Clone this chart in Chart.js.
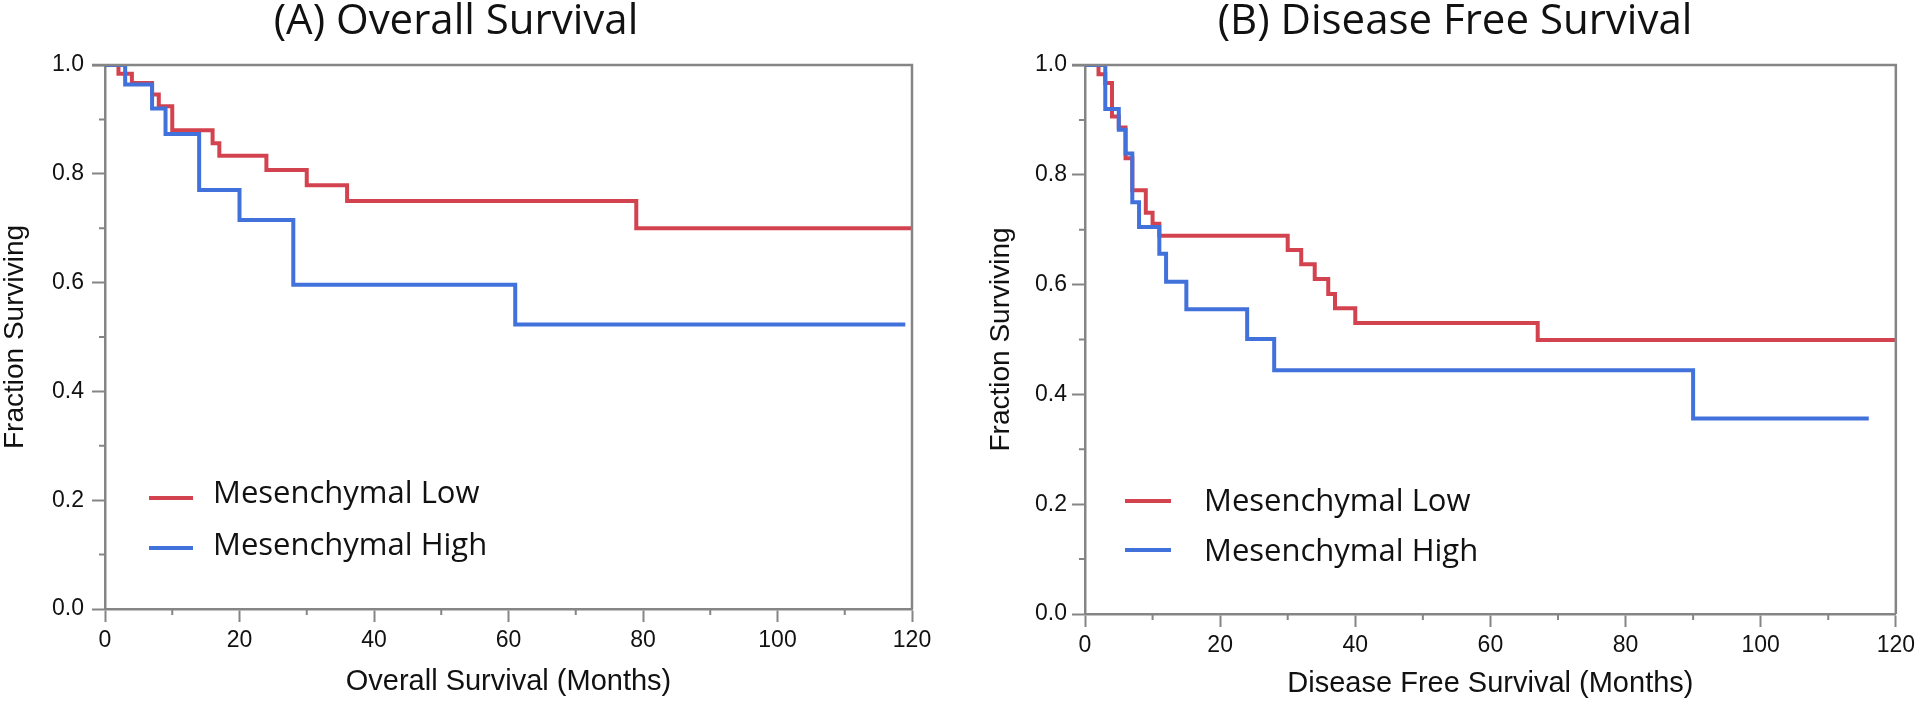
<!DOCTYPE html>
<html>
<head>
<meta charset="utf-8">
<script src="https://cdn.jsdelivr.net/npm/chart.js@4.4.1/dist/chart.umd.min.js"></script>
<style>
    html, body { margin: 0; padding: 0; background: #fff; }
    #wrap { position: relative; width: 1920px; height: 704px; }
    .panel { position: absolute; top: 0; width: 960px; height: 704px; }
</style>
</head>
<body>
<div id="wrap">
    <div class="panel" style="left:0"><canvas id="chartA"></canvas></div>
    <div class="panel" style="left:960px"><canvas id="chartB"></canvas></div>
</div>
<script>
// series names (legend)
const seriesNames = ['Mesenchymal Low', 'Mesenchymal High'];

// (A) Overall survival - months where the curve steps down, and the fraction after the step
const osLowMonths  = [0, 2, 4, 7, 8, 10, 16, 17, 24, 30, 36, 79, 120];
const osLowSurv    = [1, 0.984, 0.967, 0.946, 0.924, 0.880, 0.856, 0.833, 0.807, 0.779, 0.750, 0.700, 0.700];
const osHighMonths = [0, 3, 7, 9, 14, 20, 28, 61, 119];
const osHighSurv   = [1, 0.964, 0.920, 0.873, 0.770, 0.715, 0.596, 0.523, 0.523];

// (B) Disease free survival
const dfsLowMonths  = [0, 2, 3, 4, 5, 6, 7, 9, 10, 11, 30, 32, 34, 36, 37, 40, 67, 120];
const dfsLowSurv    = [1, 0.983, 0.967, 0.906, 0.886, 0.830, 0.772, 0.731, 0.711, 0.689, 0.663, 0.637, 0.610, 0.583, 0.557, 0.530, 0.499, 0.499];
const dfsHighMonths = [0, 3, 5, 6, 7, 8, 11, 12, 15, 24, 28, 90, 116];
const dfsHighSurv   = [1, 0.920, 0.882, 0.839, 0.750, 0.705, 0.656, 0.605, 0.555, 0.501, 0.444, 0.356, 0.356];

// axis ticks
const monthTicks = [0, 20, 40, 60, 80, 100, 120];
const fractionTicks = [0, 0.2, 0.4, 0.6, 0.8, 1.0];

const RED = '#d3434f';
const BLUE = '#4171da';
const AXIS = '#858585';

Chart.defaults.font.family = '"Liberation Sans", Arial, sans-serif';
Chart.defaults.color = '#111';

function toPoints(xs, ys) {
    return xs.map((x, i) => ({x: x, y: ys[i]}));
}

// frame, minor ticks, panel title and in-plot legend
const kmDecor = {
    id: 'kmDecor',
    afterDraw(chart, args, opts) {
        const ctx = chart.ctx;
        const a = chart.chartArea;
        const xs = chart.scales.x;
        const ys = chart.scales.y;
        ctx.save();

        ctx.strokeStyle = AXIS;
        ctx.lineWidth = 2.5;
        ctx.beginPath();
        ctx.moveTo(a.left - 13, a.top);
        ctx.lineTo(a.right, a.top);
        ctx.lineTo(a.right, a.bottom);
        ctx.stroke();

        ctx.lineWidth = 2;
        ctx.beginPath();
        for (let v = 10; v < 120; v += 20) {
            const px = xs.getPixelForValue(v);
            ctx.moveTo(px, a.bottom);
            ctx.lineTo(px, a.bottom + 6);
        }
        for (let v = 0.1; v < 1; v += 0.2) {
            const py = ys.getPixelForValue(v);
            ctx.moveTo(a.left - 6, py);
            ctx.lineTo(a.left, py);
        }
        ctx.stroke();

        ctx.fillStyle = '#111';
        ctx.textAlign = 'center';
        ctx.textBaseline = 'alphabetic';
        ctx.font = '42px "Open Sans", Lato, sans-serif';
        ctx.fillText(opts.title, opts.titleX, opts.titleY);

        const lg = opts.legend;
        ctx.font = '31px "Open Sans", Lato, sans-serif';
        ctx.textAlign = 'left';
        chart.data.datasets.forEach((ds, i) => {
            const row = lg.rows[i];
            ctx.strokeStyle = ds.borderColor;
            ctx.lineWidth = 4;
            ctx.beginPath();
            ctx.moveTo(a.left + lg.lineStart, a.bottom - row.line);
            ctx.lineTo(a.left + lg.lineEnd, a.bottom - row.line);
            ctx.stroke();
            ctx.fillText(ds.label, a.left + lg.textStart, a.bottom - row.base);
        });
        ctx.restore();
    }
};

function makeChart(id, lowPts, highPts, o) {
    const ctx = document.getElementById(id).getContext('2d');
    return new Chart(ctx, {
        type: 'line',
        data: {
            datasets: [{
                label: seriesNames[0],
                data: lowPts,
                borderColor: RED,
                borderWidth: 4,
                stepped: 'before',
                pointRadius: 0,
                fill: false,
                order: 1
            }, {
                label: seriesNames[1],
                data: highPts,
                borderColor: BLUE,
                borderWidth: 4,
                stepped: 'before',
                pointRadius: 0,
                fill: false,
                order: 0
            }]
        },
        options: {
            responsive: true,
            maintainAspectRatio: false,
            animation: false,
            layout: { padding: { top: 65, right: o.padRight, left: 0, bottom: 0 } },
            plugins: {
                legend: { display: false },
                tooltip: { enabled: false },
                kmDecor: o.decor
            },
            scales: {
                x: {
                    type: 'linear',
                    min: 0,
                    max: 120,
                    afterBuildTicks: (s) => { s.ticks = monthTicks.map(v => ({value: v})); },
                    afterFit: (s) => { s.height = o.xHeight; },
                    border: { color: AXIS, width: 2.5 },
                    grid: { drawOnChartArea: false, tickLength: 13, tickColor: AXIS, tickWidth: 2 },
                    ticks: { font: { size: 23 }, padding: 5, maxRotation: 0, color: '#111' },
                    title: {
                        display: true,
                        text: o.xTitle,
                        font: { size: 29, lineHeight: 1 },
                        padding: { top: 0, bottom: o.xTitleBottom },
                        color: '#111'
                    }
                },
                y: {
                    min: 0,
                    max: 1,
                    afterBuildTicks: (s) => { s.ticks = fractionTicks.map(v => ({value: v})); },
                    afterFit: (s) => { s.width = o.yWidth; },
                    border: { color: AXIS, width: 2.5 },
                    grid: { drawOnChartArea: false, tickLength: 13, tickColor: AXIS, tickWidth: 2 },
                    ticks: {
                        font: { size: 23 },
                        padding: o.yTickPad,
                        color: '#111',
                        callback: (v) => Number(v).toFixed(1)
                    },
                    title: {
                        display: true,
                        text: 'Fraction Surviving',
                        font: { size: 28, lineHeight: 1 },
                        padding: { top: o.yTitleTop, bottom: 0 },
                        color: '#111'
                    }
                }
            }
        },
        plugins: [kmDecor]
    });
}

makeChart('chartA', toPoints(osLowMonths, osLowSurv), toPoints(osHighMonths, osHighSurv), {
    padRight: 48,
    xHeight: 95,
    yWidth: 105,
    yTickPad: 8,
    yTitleTop: 1,
    xTitle: 'Overall Survival (Months)',
    xTitleBottom: 8,
    decor: {
        title: '(A) Overall Survival',
        titleX: 456,
        titleY: 34,
        legend: {
            lineStart: 44, lineEnd: 88, textStart: 108,
            rows: [{line: 111, base: 106}, {line: 61, base: 54}]
        }
    }
});

makeChart('chartB', toPoints(dfsLowMonths, dfsLowSurv), toPoints(dfsHighMonths, dfsHighSurv), {
    padRight: 20,
    xHeight: 90,
    yWidth: 125,
    yTickPad: 5,
    yTitleTop: 27,
    xTitle: 'Disease Free Survival (Months)',
    xTitleBottom: 6,
    decor: {
        title: '(B) Disease Free Survival',
        titleX: 495,
        titleY: 34,
        legend: {
            lineStart: 40, lineEnd: 86, textStart: 119,
            rows: [{line: 113, base: 103}, {line: 64, base: 53}]
        }
    }
});
</script>
</body>
</html>
